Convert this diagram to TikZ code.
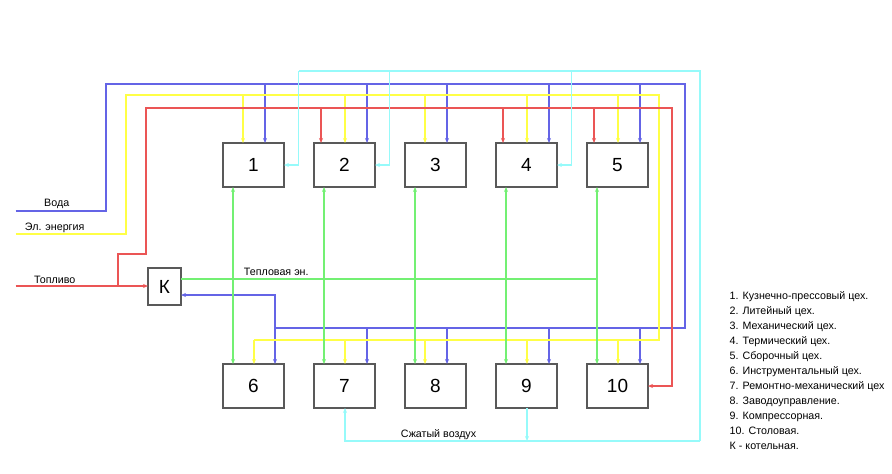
\documentclass[tikz,border=0pt]{standalone}
\usepackage{fontspec}
\setmainfont{Liberation Sans}
\usetikzlibrary{arrows.meta}

\definecolor{water}{RGB}{100,100,230}
\definecolor{power}{RGB}{255,255,70}
\definecolor{fuel}{RGB}{235,85,85}
\definecolor{heat}{RGB}{115,240,115}
\definecolor{air}{RGB}{150,250,250}

\tikzset{
    shop/.style={draw=black!65, line width=1.2pt, minimum width=61pt, minimum height=44pt,
        inner sep=0pt, outer sep=0pt, font=\fontsize{19}{19}\selectfont},
    kbox/.style={shop, minimum width=33pt, minimum height=37pt},
    flow/.style={line width=1.2pt},
    lbl/.style={inner sep=0pt, anchor=base, font=\fontsize{10.7}{12}\selectfont},
    legend/.style={inner sep=0pt, anchor=base west, font=\fontsize{10.7}{12}\selectfont},
}

\begin{document}
\begin{tikzpicture}[x=1pt, y=-1pt, >={Stealth[length=5pt,width=4pt]}, line cap=butt, line join=miter]
    \useasboundingbox (0,0) rectangle (892,474);
    \begin{scope}[shift={(0.5,0.5)}]

    % Shops and boiler house
    \foreach \i [evaluate=\i as \j using int(\i+5)] in {1,...,5} {
        \node[shop] (b\i) at ({253+91*(\i-1)},164.5) {\i};
        \node[shop] (b\j) at ({253+91*(\i-1)},385.5) {\j};
    }
    \node[kbox] (K) at (164,286) {К};

    % Inputs and bus levels
    \coordinate (wIn) at (15,210.5);
    \coordinate (eIn) at (15,233.5);
    \coordinate (fIn) at (15,285.5);
    \coordinate (wTop) at (0,83.5);
    \coordinate (eTop) at (0,94.5);
    \coordinate (fTop) at (0,107.5);
    \coordinate (aTop) at (0,70.5);
    \coordinate (wBot) at (0,327.5);
    \coordinate (eBot) at (0,339.5);

    % Water
    \draw[flow, water] (wIn) -- (105.5,210.5) -- (105.5,83.5) -- (684.5,83.5) -- (684.5,327.5) -- (274.5,327.5);
    \draw[flow, water, ->] (274.5,327.5) |- ([yshift=-8.5pt]K.east);
    \draw[flow, water, ->] (274.5,327.5) -- ([xshift=21.5pt]b6.north);
    \foreach \i/\o in {1/11.5,2/22.5,3/11.5,4/22.5,5/22.5} {
        \coordinate (t) at ([xshift=\o pt]b\i.north);
        \draw[flow, water, ->] (t |- wTop) -- (t);
    }
    \foreach \i/\o in {7/22.5,8/11.5,9/22.5,10/22.5} {
        \coordinate (t) at ([xshift=\o pt]b\i.north);
        \draw[flow, water, ->] (t |- wBot) -- (t);
    }

    % Electric power
    \draw[flow, power] (eIn) -- (125.5,233.5) -- (125.5,94.5) -- (658.5,94.5) -- (658.5,339.5) -- (253.5,339.5);
    \draw[flow, power, ->] (253.5,339.5) -- ([xshift=0.5pt]b6.north);
    \foreach \i/\o in {1/-10.5,2/0.5,3/-10.5,4/0.5,5/0.5} {
        \coordinate (t) at ([xshift=\o pt]b\i.north);
        \draw[flow, power, ->] (t |- eTop) -- (t);
    }
    \foreach \i/\o in {7/0.5,8/-10.5,9/0.5,10/0.5} {
        \coordinate (t) at ([xshift=\o pt]b\i.north);
        \draw[flow, power, ->] (t |- eBot) -- (t);
    }

    % Fuel
    \draw[flow, fuel, ->] (fIn) -- (fIn -| K.west);
    \draw[flow, fuel, ->] (117.5,285.5) -- (117.5,253.5) -- (145.5,253.5) -- (145.5,107.5) -- (671.5,107.5) |- (b10.east);
    \foreach \i in {2,4,5} {
        \coordinate (t) at ([xshift=-23.5pt]b\i.north);
        \draw[flow, fuel, ->] (t |- fTop) -- (t);
    }

    % Heat
    \coordinate (hOut) at ([yshift=7.5pt]K.east);
    \coordinate (hEnd) at ([xshift=-20.5pt]b5.south);
    \draw[flow, heat] (hOut) -- (hOut -| hEnd);
    \foreach \i [evaluate=\i as \j using int(\i+5)] in {1,...,5}
        \draw[flow, heat, <->] ([xshift=-20.5pt]b\i.south) -- ([xshift=-20.5pt]b\j.north);

    % Compressed air
    \coordinate (aJ) at (699.5,440.5);
    \coordinate (a9) at ([xshift=0.5pt]b9.south);
    \coordinate (a7) at ([xshift=0.5pt]b7.south);
    \draw[flow, air, ->] (a9) -- (a9 |- aJ);
    \draw[flow, air, ->] (aJ) -| (a7);
    \draw[flow, air] (aJ) -- (699.5,70.5) -- (298.5,70.5);
    \foreach \i in {1,2,4} {
        \coordinate (t) at ([xshift=14.5pt]b\i.east);
        \draw[flow, air, ->] (t |- aTop) |- (b\i.east);
    }

    % Annotations
    \node[lbl] (wLbl) at (56.2,206) {Вода};
    \node[lbl] (eLbl) at (54.2,229.7) {Эл. энергия};
    \node[lbl] (fLbl) at (54.2,282.7) {Топливо};
    \node[lbl] (hLbl) at (275.8,275.4) {Тепловая эн.};
    \node[lbl] (aLbl) at (438,436.7) {Сжатый воздух};

    % Legend
    \foreach \t [count=\k] in {1. Кузнечно-прессовый цех., 2. Литейный цех., 3. Механический цех.,
        4. Термический цех., 5. Сборочный цех., 6. Инструментальный цех., 7. Ремонтно-механический цех,
        8. Заводоуправление., 9. Компрессорная., 10. Столовая., К - котельная.}
        \node[legend] (leg\k) at (729,{298.7+15*(\k-1)}) {\t};
    \end{scope}
\end{tikzpicture}
\end{document}
